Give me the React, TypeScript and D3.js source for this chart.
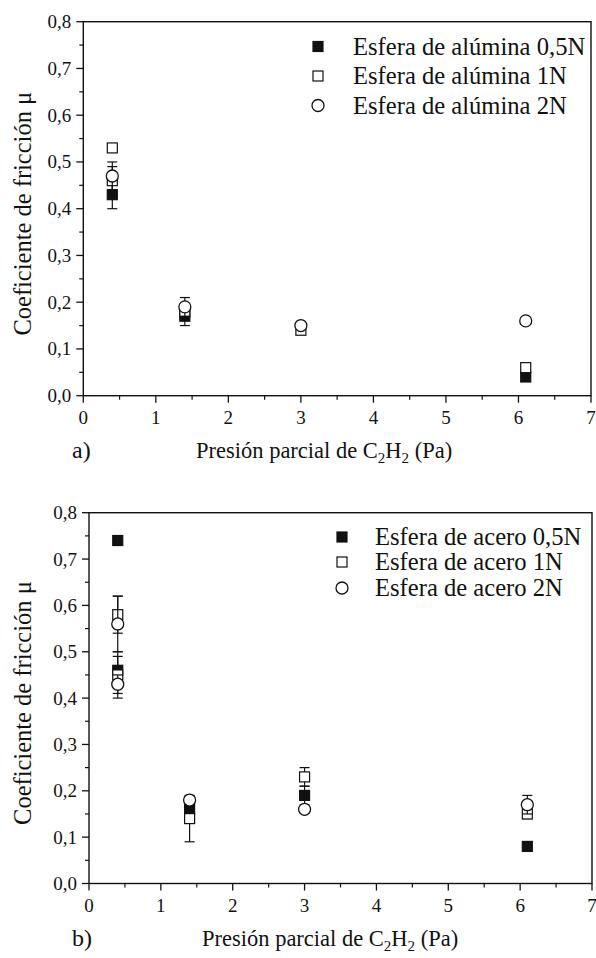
import * as d3 from 'd3';

const FONT = '"Liberation Serif", Tinos, "Times New Roman", "DejaVu Serif", serif';

// panel a) — alumina ball
const aLabels = ['Esfera de alúmina 0,5N', 'Esfera de alúmina 1N', 'Esfera de alúmina 2N'];
const aX05 = [0.4, 1.4, 6.1];
const aY05 = [0.43, 0.17, 0.04];
const aE05 = [0.03, 0.02, 0];
const aX1 = [0.4, 0.4, 1.4, 3.0, 6.1];
const aY1 = [0.53, 0.46, 0.18, 0.14, 0.06];
const aE1 = [0, 0.03, 0.01, 0, 0];
const aX2 = [0.4, 1.4, 3.0, 6.1];
const aY2 = [0.47, 0.19, 0.15, 0.16];
const aE2 = [0.03, 0.02, 0, 0];

// panel b) — steel ball
const bLabels = ['Esfera de acero 0,5N', 'Esfera de acero 1N', 'Esfera de acero 2N'];
const bX05 = [0.4, 0.4, 1.4, 3.0, 6.1];
const bY05 = [0.74, 0.46, 0.16, 0.19, 0.08];
const bE05 = [0, 0.03, 0, 0.02, 0];
const bX1 = [0.4, 0.4, 1.4, 3.0, 6.1];
const bY1 = [0.58, 0.45, 0.14, 0.23, 0.15];
const bE1 = [0.04, 0.05, 0.05, 0.02, 0.01];
const bX2 = [0.4, 0.4, 1.4, 3.0, 6.1];
const bY2 = [0.56, 0.43, 0.18, 0.16, 0.17];
const bE2 = [0.06, 0.02, 0, 0, 0.02];

const xTicks = [0, 1, 2, 3, 4, 5, 6, 7];
const yTicks = [0, 0.1, 0.2, 0.3, 0.4, 0.5, 0.6, 0.7, 0.8];

type Series = { x: number[]; y: number[]; e: number[]; shape: 'fsq' | 'osq' | 'circ' };

const fmtY = (v: number) => d3.format('.1f')(v).replace('.', ',');

function Marker({ shape, cx, cy }: { shape: string; cx: number; cy: number }) {
  if (shape === 'circ') {
    return <circle cx={cx} cy={cy} r={6} fill="white" stroke="#111" strokeWidth={1.3} />;
  }
  return (
    <rect x={cx - 5} y={cy - 5} width={10} height={10}
      fill={shape === 'fsq' ? '#111' : 'white'} stroke="#111" strokeWidth={1.2} />
  );
}

function Panel({ box, series, labels, legend, tag, titleX }: {
  box: { l: number; r: number; t: number; b: number };
  series: Series[];
  labels: string[];
  legend: { sx: number; tx: number; ys: number[] };
  tag: string;
  titleX: number;
}) {
  const x = d3.scaleLinear().domain([0, 7]).range([box.l, box.r]);
  const y = d3.scaleLinear().domain([0, 0.8]).range([box.b, box.t]);
  const xMinor = d3.range(0.5, 7, 1);
  const yMinor = d3.range(0.05, 0.8, 0.1);
  const tickY = box.b + 28;

  return (
    <g style={{ fontFamily: FONT }} fill="#111">
      {/* frame */}
      <rect x={box.l} y={box.t} width={box.r - box.l} height={box.b - box.t}
        fill="none" stroke="#111" strokeWidth={1.4} />

      {/* x axis ticks */}
      {xTicks.map(t => (
        <g key={'x' + t}>
          <line x1={x(t)} x2={x(t)} y1={box.b} y2={box.b + 7} stroke="#111" strokeWidth={1.3} />
          <text x={x(t)} y={tickY} textAnchor="middle" fontSize={19}>{t}</text>
        </g>
      ))}
      {xMinor.map(t => (
        <line key={'xm' + t} x1={x(t)} x2={x(t)} y1={box.b} y2={box.b + 4} stroke="#111" strokeWidth={1.2} />
      ))}

      {/* y axis ticks */}
      {yTicks.map(t => (
        <g key={'y' + t}>
          <line x1={box.l - 7} x2={box.l} y1={y(t)} y2={y(t)} stroke="#111" strokeWidth={1.3} />
          <text x={box.l - 12} y={y(t) + 6.5} textAnchor="end" fontSize={19}>{fmtY(t)}</text>
        </g>
      ))}
      {yMinor.map(t => (
        <line key={'ym' + t} x1={box.l - 4} x2={box.l} y1={y(t)} y2={y(t)} stroke="#111" strokeWidth={1.2} />
      ))}

      {/* titles */}
      <text transform={`translate(31,${(box.t + box.b) / 2 + 5}) rotate(-90)`} textAnchor="middle" fontSize={24.5}>
        Coeficiente de fricción μ
      </text>
      <text x={titleX} y={box.b + 62} fontSize={22.5}>
        Presión parcial de C<tspan fontSize={15} dy={5}>2</tspan><tspan dy={-5}>H</tspan>
        <tspan fontSize={15} dy={5}>2</tspan><tspan dy={-5}> (Pa)</tspan>
      </text>
      <text x={72} y={box.b + 62} fontSize={24}>{tag}</text>

      {/* data: error bars and markers, one series after another */}
      {series.map((s, si) => (
        <g key={'s' + si}>
          {s.x.map((xv, i) => s.e[i] > 0 ? (
            <g key={'e' + i} stroke="#111" strokeWidth={1.2}>
              <line x1={x(xv)} x2={x(xv)} y1={y(s.y[i] - s.e[i])} y2={y(s.y[i] + s.e[i])} />
              <line x1={x(xv) - 5} x2={x(xv) + 5} y1={y(s.y[i] - s.e[i])} y2={y(s.y[i] - s.e[i])} />
              <line x1={x(xv) - 5} x2={x(xv) + 5} y1={y(s.y[i] + s.e[i])} y2={y(s.y[i] + s.e[i])} />
            </g>
          ) : null)}
          {s.x.map((xv, i) => (
            <Marker key={'m' + i} shape={s.shape} cx={x(xv)} cy={y(s.y[i])} />
          ))}
        </g>
      ))}

      {/* legend */}
      {series.map((s, i) => (
        <g key={'l' + i}>
          <Marker shape={s.shape} cx={legend.sx} cy={legend.ys[i]} />
          <text x={legend.tx} y={legend.ys[i] + 8} fontSize={24.6}>{labels[i]}</text>
        </g>
      ))}
    </g>
  );
}

export default function App() {
  const seriesA: Series[] = [
    { x: aX05, y: aY05, e: aE05, shape: 'fsq' },
    { x: aX1, y: aY1, e: aE1, shape: 'osq' },
    { x: aX2, y: aY2, e: aE2, shape: 'circ' },
  ];
  const seriesB: Series[] = [
    { x: bX05, y: bY05, e: bE05, shape: 'fsq' },
    { x: bX1, y: bY1, e: bE1, shape: 'osq' },
    { x: bX2, y: bY2, e: bE2, shape: 'circ' },
  ];
  return (
    <div style={{ position: 'absolute', left: 0, top: 0 }}>
      <svg width={596} height={958} style={{ display: 'block', background: 'white' }}>
        <Panel box={{ l: 83.3, r: 591, t: 21.7, b: 395.7 }} series={seriesA} labels={aLabels}
          legend={{ sx: 318, tx: 353, ys: [46.5, 76, 105.5] }} tag="a)" titleX={196} />
        <Panel box={{ l: 89, r: 592, t: 512.7, b: 883.5 }} series={seriesB} labels={bLabels}
          legend={{ sx: 342, tx: 375, ys: [537, 562, 588] }} tag="b)" titleX={202} />
      </svg>
    </div>
  );
}
